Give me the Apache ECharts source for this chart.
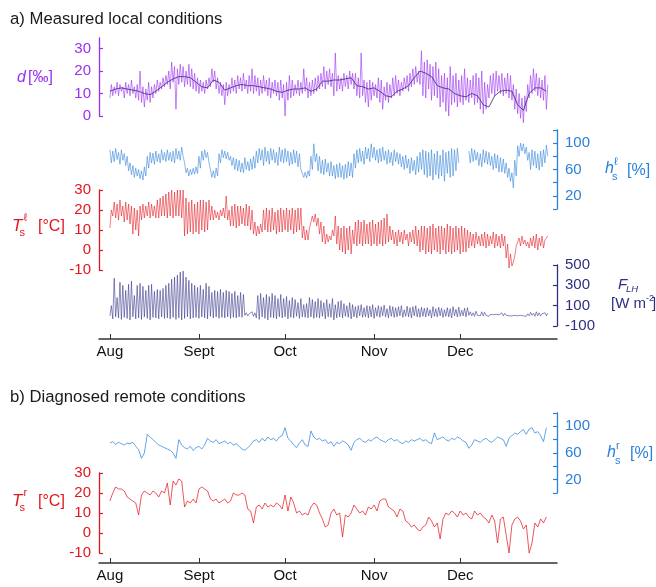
<!DOCTYPE html>
<html>
<head>
<meta charset="utf-8">
<script src="https://cdn.jsdelivr.net/npm/echarts@6/dist/echarts.min.js"></script>
<style>
html,body{margin:0;padding:0;background:#fff;}
#c{width:656px;height:587px;}
</style>
</head>
<body>
<div id="c"></div>
<script>
// ---- DATA (day 0 = 1 Aug, day 152 = 31 Dec) ----
const monthNames = ['Aug','Sept','Oct','Nov','Dec'];
const monthStartDays = [0,31,61,92,122];

const dTicks = [0,10,20,30];
const hTicks = [20,60,100];
const tTicks = [-10,0,10,20,30];
const fTicks = [-100,100,300,500];

// d [permil] daily high / low (measured local)
const dHi = [14,13,15,14,13,15,14,16,13,14, 20,13,12,15,13,14,16,15,17,18,
  20,24,22,21,23,22,20,23,21,19, 17,16,15,16,17,21,20,17,15,14,
  15,14,17,16,18,17,19,16,18,21, 18,17,16,18,16,17,15,16,15,16,
  14,15,18,16,14,16,15,21,17,15, 16,17,18,19,22,20,21,19,28,18,
  17,19,18,20,19,19,17,28,16,15, 16,15,14,17,16,13,15,14,17,18,
  16,15,17,18,19,21,22,20,29,24, 25,23,22,24,21,18,19,17,22,18,
  19,16,18,21,17,16,18,19,17,20, 15,14,18,19,20,18,19,17,19,18,
  14,12,10,8,9,14,18,21,19,17, 16,18,14];
const dLo = [8,9,10,9,11,8,10,9,10,8, 7,6,4,7,6,8,10,11,12,13,
  14,12,15,3,14,15,13,14,13,12, 11,10,11,10,12,13,15,12,10,9,
  5,9,10,11,10,12,11,12,10,11, 10,11,9,10,11,9,8,10,9,7,
  8,0,7,8,9,10,9,10,11,8, 9,10,11,12,13,12,14,13,9,11,
  12,11,13,12,14,12,9,8,9,6, 4,7,9,8,6,3,7,6,8,9,
  10,9,11,12,11,13,14,15,14,9, 8,12,7,9,8,4,6,2,0,5,
  6,4,6,5,7,6,8,5,6,3, 1,3,8,10,9,11,10,9,10,8,
  7,3,1,-1,-3,2,8,10,11,9, 8,7,3];
// d running mean, every 2 days
const dMean = [11,12,12.5,12,11.5,11,10,9.5,11,13,
  15,16.5,17.5,17.5,17,15,13,12.5,16,15,
  11.5,12.5,13.5,14,13.5,13.5,13,12.5,12,11,
  10.5,11.5,12,12,12.5,11,12,15.5,15.5,16,
  16,16.5,17,13.5,13,12,12.5,11,9,8.5,
  11,12,13.5,17,20,19,17.5,13.5,12.5,12,
  10,9,8.5,10,9,5,4,9,11,11.5,
  11,5,2.5,10,12.5,12.5,11];

// h_s local [%] daily high / low
const hHi = [90,88,92,86,90,84,80,70,66,62, 60,58,64,80,86,85,88,84,90,86,
  90,86,88,92,88,94,70,62,60,62, 64,80,88,90,86,60,58,62,84,90,
  88,86,80,78,76,74,70,78,72,76, 80,88,92,90,94,88,92,90,86,94,
  90,92,88,86,90,88,84,60,56,58, 80,99,84,80,74,76,70,72,66,68,
  70,66,68,72,70,84,90,92,88,94, 92,99,94,90,92,94,88,90,86,90,
  86,84,80,82,76,78,74,80,86,90, 88,86,90,84,88,82,90,86,88,92,
  90,92,null,null,null,88,92,90,86,84, 90,88,86,80,84,82,78,76,70,62,
  55,74,96,100,99,94,86,90,88,84, 88,90,97];
const hLo = [70,72,75,68,74,66,58,52,48,50, 46,44,50,62,70,68,72,70,74,72,
  74,72,70,76,74,80,55,50,52,53, 54,62,74,78,70,48,47,50,70,78,
  76,74,66,60,58,56,55,60,58,60, 62,70,74,66,72,68,74,70,66,72,
  70,72,66,68,70,64,60,48,47,50, 60,72,58,54,52,56,50,50,46,48,
  48,45,47,50,48,62,70,72,68,76, 72,78,74,70,72,74,68,70,66,72,
  68,64,60,62,54,58,52,56,60,52, 48,50,44,52,46,50,42,54,48,50,
  58,70,null,null,null,70,72,74,66,64, 70,68,66,60,62,56,56,54,48,42,
  32,50,80,88,84,74,60,66,62,59, 64,70,80];

// T_s local [degC] daily high / low
const tHi = [20,24,23,25,22,24,23,22,21,20, 22,23,22,24,23,22,25,26,27,28,
  29,30,29,30,30,30,26,24,25,23, 24,25,25,24,25,22,20,19,20,21,
  27,20,22,23,22,22,21,23,22,20, 14,12,13,20,21,20,21,19,20,21,
  20,21,20,21,20,21,21,12,10,11, 17,18,16,14,12,8,7,10,17,12,
  11,12,11,12,10,14,15,14,15,13, 14,15,13,14,15,16,18,12,10,9,
  10,9,10,8,9,10,12,10,12,12, 11,12,13,11,12,12,11,13,12,11,
  12,11,12,11,10,9,8,9,7,8, 9,8,7,9,8,7,8,7,3,-2,
  -6,2,6,7,5,4,6,7,8,6, 7,5,7];
const tLo = [11,17,16,15,17,14,15,13,8,10, 7,15,16,17,16,17,16,16,17,17,
  16,17,16,17,17,16,7,8,9,8, 9,8,10,9,10,15,15,16,15,17,
  16,15,12,12,11,12,13,12,12,10, 8,7,8,9,10,9,9,10,8,9,
  9,10,9,10,8,9,10,6,5,5, 12,14,12,8,4,3,4,5,7,3,
  0,-1,-2,0,-2,3,2,3,2,3, 3,2,3,2,3,2,3,4,5,3,
  2,4,3,5,2,4,3,2,-1,0, -2,-1,-2,0,-1,-2,0,-2,-1,-2,
  -1,0,-2,-1,-1,1,2,1,3,2, 2,1,2,3,1,2,1,2,-4,-9,
  -8,-3,1,2,3,2,1,2,1,0, 2,1,6];

// F_LH [W m-2] daily high / low
const fHi = [100,370,180,330,300,250,310,340,200,300, 320,290,250,300,310,240,260,250,270,300,
  320,360,380,400,430,440,380,350,320,300, 280,300,260,320,290,230,250,240,260,230,
  250,240,220,240,200,230,210,30,20,40, 30,200,220,180,210,190,220,200,170,210,
  170,190,150,180,160,130,170,110,120,180, 160,140,170,150,130,160,120,170,110,140,
  150,120,100,130,110,90,100,110,80,100, 95,110,80,100,90,105,70,100,90,80,
  90,100,60,95,80,90,100,70,85,75, 80,60,90,70,85,75,60,80,70,90,
  65,85,55,75,80,40,30,45,20,40, 35,20,15,10,15,10,30,25,10,5,
  10,15,5,10,8,20,35,25,40,30, 20,30,25];
const fLo = [0,-30,-10,-20,-35,-15,-25,-40,-10,-30, -20,-35,-10,-25,-40,-15,-20,-30,-10,-25,
  -20,-30,-15,-35,-20,-40,-25,-10,-30,-20, -15,-25,-10,-20,-30,-5,-20,-10,-25,-15,
  -20,-10,-25,-15,-20,-10,-15,5,0,5, -5,-20,-35,-10,-25,-40,-15,-20,-30,-10,
  -20,-10,-30,-15,-20,-5,-25,-10,-15,-20, -10,-25,-15,-20,-5,-30,-10,-15,-40,-20,
  -10,-20,-5,-15,-30,-10,-20,0,-15,-10, -20,-10,-25,-5,-15,0,-10,-20,-5,-15,
  -10,0,-15,-5,-10,-20,0,-10,-15,-5, -10,0,-20,-5,-10,0,-15,-5,-10,-20,
  0,-10,-5,0,-10,5,0,-5,5,0, 0,5,-5,0,5,0,-5,0,5,0,
  0,5,0,5,0,-5,0,5,-5,0, 0,5,0];

// h_s remote [%] daily
const hRemote = [75,77,73,76,74,72,75,74,76,70, 65,52,60,88,84,80,76,72,70,68,
  66,64,60,52,80,72,68,66,70,64, 68,70,66,72,82,78,76,80,74,76,
  78,74,76,72,74,70,66,64,68,72, 78,80,76,82,78,84,80,82,78,84,
  86,98,82,78,72,68,75,80,72,70, 93,84,80,82,78,80,74,77,70,76,
  74,78,76,72,64,76,80,82,78,76, 80,78,82,84,80,78,76,80,82,78,
  80,76,74,78,76,80,78,80,82,78, 80,76,74,90,80,82,84,80,78,82,
  80,84,82,78,76,67,72,80,78,76, 80,82,78,76,80,84,82,80,70,82,
  86,90,88,92,95,88,96,98,90,92, 86,77,98];
// T_s remote [degC] daily
const tRemote = [16,20,23,22,22,21,18,17,16,15, 9,19,21,20,19,21,20,18,21,20,
  25,14,26,24,27,26,13,16,15,17, 15,22,23,22,21,17,16,17,15,16,
  17,15,16,20,19,19,20,19,12,11, 5,13,14,12,15,13,14,13,15,14,
  12,19,11,18,15,10,11,9,10,9, 13,15,14,10,7,3,4,10,12,9,
  10,-2,9,8,10,14,12,10,11,9, 13,12,14,11,16,17,17,13,12,11,
  8,12,11,6,5,3,4,2,1,3, 4,8,6,3,5,-3,7,10,9,11,
  10,8,11,9,10,8,7,11,9,10, 8,7,5,9,6,-5,7,8,-1,-10,
  4,7,8,6,2,4,-10,-5,5,3, 7,5,8];

// ---- build ----
function pairs(first, second){
  const out=[];
  for(let i=0;i<first.length;i++){ out.push([i, first[i]]); out.push([i+0.5, second[i]]); }
  return out;
}
function daily(a){ return a.map((v,i)=>[i,v]); }

const FONT = "'Liberation Sans', Arial, sans-serif";
const PURPLE='#9b2ff0', BLUE='#2b80d8', RED='#e3161d', NAVY='#2e2e84', AXC='#333';
const X0=-3.8, X1=155.7;
const L=99, W=458;

const grids = [
  {left:L,width:W,top:38,height:78},
  {left:L,width:W,top:130,height:79},
  {left:L,width:W,top:190,height:80},
  {left:L,width:W,top:265,height:61},
  {left:L,width:W,top:413,height:80},
  {left:L,width:W,top:473,height:80}
];
function hiddenX(g){ return {type:'value',gridIndex:g,min:X0,max:X1,show:false}; }
function visX(g, off){
  return {type:'value',gridIndex:g,min:X0,max:X1,position:'bottom',offset:off,
    axisLine:{show:true,onZero:false,lineStyle:{color:AXC,width:1.5}},
    axisTick:{show:true,inside:true,length:5,customValues:monthStartDays,lineStyle:{color:AXC,width:1}},
    axisLabel:{show:true,customValues:monthStartDays,color:'#111',fontSize:15,fontFamily:FONT,margin:5,
      formatter:function(v){const k=monthStartDays.indexOf(v);return k>=0?monthNames[k]:'';}},
    splitLine:{show:false}};
}
function yAx(g,pos,color,min,max,opts){
  const a = {type:'value',gridIndex:g,position:pos,min:min,max:max,
    axisLine:{show:true,onZero:false,lineStyle:{color:color,width:1.3}},
    axisTick:{show:true,inside:true,length:4,lineStyle:{color:color,width:1.2}},
    axisLabel:{show:true,color:color,fontSize:15,fontFamily:FONT,margin:8},
    splitLine:{show:false}};
  if(opts.interval){a.interval=opts.interval;}
  if(opts.ticks){a.axisTick.customValues=opts.ticks;}
  if(opts.labels){a.axisLabel.customValues=opts.labels;}
  if(opts.labelSet){const s=opts.labelSet;a.axisLabel.formatter=function(v){return s.indexOf(v)>=0?String(v):'';};}
  return a;
}
function line(xi,yi,data,color,w,z,op){
  return {type:'line',xAxisIndex:xi,yAxisIndex:yi,data:data,showSymbol:false,symbol:'none',
    clip:false,connectNulls:false,z:z||2,lineStyle:{color:color,width:w,opacity:op||0.8},itemStyle:{color:color},animation:false};
}

function t(x,y,text,color,size,italic,align){
  return {type:'text',x:x,y:y,silent:true,style:{text:text,fill:color,
    font:(italic?'italic ':'')+size+'px '+FONT,align:align||'left',verticalAlign:'middle'}};
}

const graphics = [
  t(10,19,'a) Measured local conditions','#1a1a1a',16.7,false),
  t(10,397,'b) Diagnosed remote conditions','#1a1a1a',16.7,false),
  // d
  t(17,77.5,'d',PURPLE,16,true), t(28,77.5,'[‰]',PURPLE,16,false),
  // T_s local
  t(12,226,'T',RED,17,true), t(19.5,233,'s',RED,11,false), t(23.5,218,'ℓ',RED,11,false), t(38,226.5,'[°C]',RED,16,false),
  // h_s local
  t(605,169,'h',BLUE,16,true), t(612,176.5,'s',BLUE,11,false), t(614,162,'ℓ',BLUE,11,false), t(627,170.5,'[%]',BLUE,16,false),
  // F_LH
  t(618,285,'F',NAVY,15,true), t(626,289,'LH',NAVY,9.5,true),
  t(611,304,'[W m',NAVY,15,false), t(646,299,'-2',NAVY,9,false), t(652,304,']',NAVY,15,false),
  // T_s remote
  t(12,501,'T',RED,17,true), t(19.5,508,'s',RED,11,false), t(23.5,493,'r',RED,11,false), t(38,501.5,'[°C]',RED,16,false),
  // h_s remote
  t(607,453,'h',BLUE,16,true), t(615,460.5,'s',BLUE,11,false), t(616,446,'r',BLUE,11,false), t(630,454,'[%]',BLUE,16,false)
];

const option = {
  animation:false,
  backgroundColor:'#fff',
  grid: grids,
  xAxis: [hiddenX(0),hiddenX(1),hiddenX(2),visX(3,13),hiddenX(4),visX(5,10)],
  yAxis: [
    yAx(0,'left',PURPLE,0,34.67,{ticks:dTicks,labels:dTicks}),
    yAx(1,'right',BLUE,0,120,{interval:20,labelSet:hTicks}),
    yAx(2,'left',RED,-10,30,{interval:10}),
    yAx(3,'right',NAVY,-100,500,{ticks:fTicks,labels:fTicks}),
    yAx(4,'right',BLUE,0,120,{interval:20,labelSet:hTicks}),
    yAx(5,'left',RED,-10,30,{interval:10})
  ],
  series: [
    line(0,0,pairs(dLo,dHi),PURPLE,0.7,2,0.85),
    line(0,0,dMean.map((v,i)=>[i*2,v]),'#3a2775',0.9,3,0.9),
    line(1,1,pairs(hHi,hLo),BLUE,0.7),
    line(2,2,pairs(tLo,tHi),RED,0.7),
    line(3,3,pairs(fLo,fHi),NAVY,0.7),
    line(4,4,daily(hRemote),BLUE,0.8,2,0.9),
    line(5,5,daily(tRemote),RED,0.8,2,0.9)
  ],
  graphic: graphics
};
const chart = echarts.init(document.getElementById('c'),null,{renderer:'canvas'});
chart.setOption(option);
</script>
</body>
</html>
